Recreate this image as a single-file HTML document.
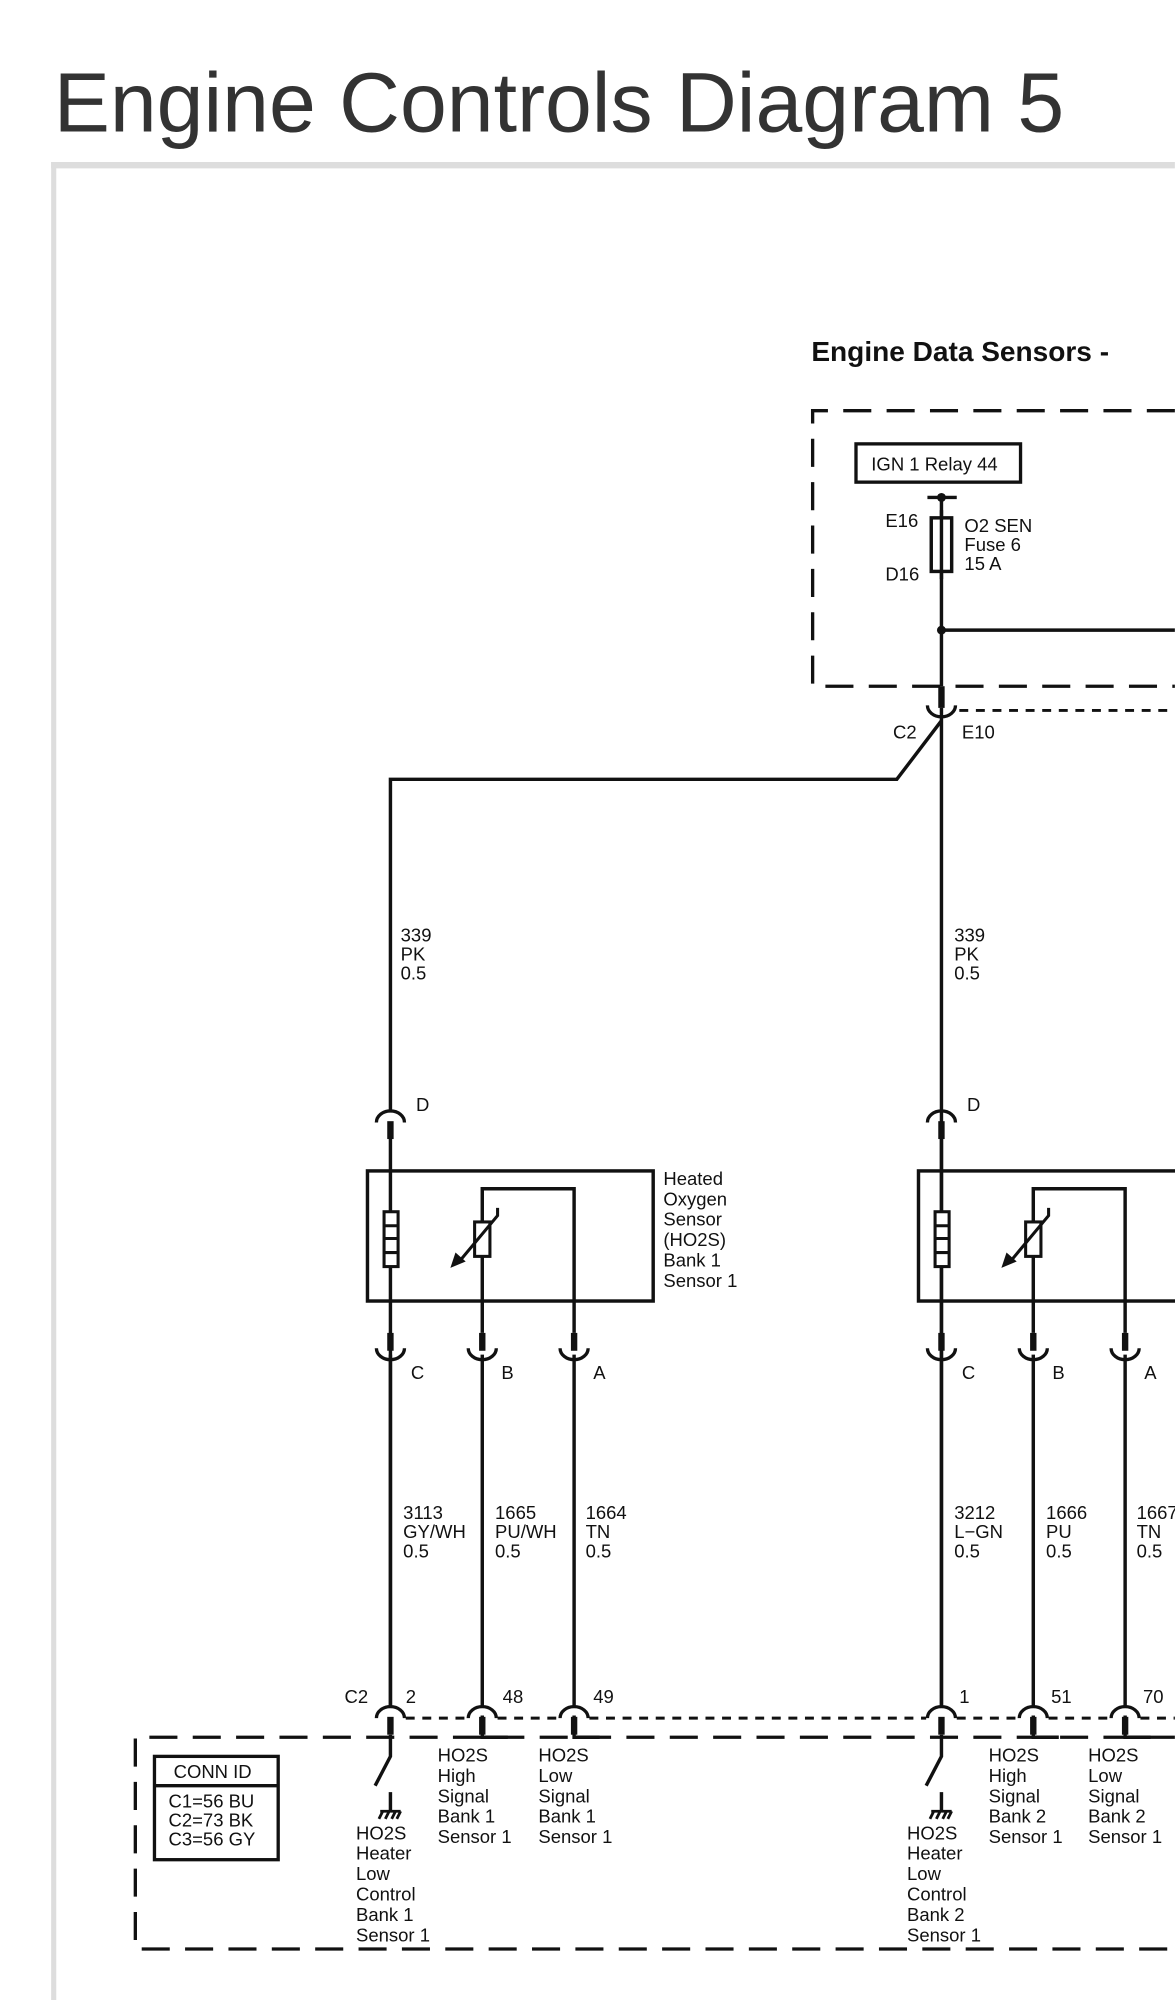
<!DOCTYPE html>
<html><head><meta charset="utf-8"><style>
html,body{margin:0;padding:0;background:#fff;}
svg{display:block;}
text{font-family:"Liberation Sans",Arial,sans-serif;fill:#111;}
.t{font-size:14.5px;}
</style></head><body>
<svg width="1175" height="2000" viewBox="0 0 921 1568" xmlns="http://www.w3.org/2000/svg">
<defs>
<g id="up"><path d="M-11,8 A11,9 0 0 1 11,8" fill="none" stroke="#111" stroke-width="2.6"/><rect x="-2.5" y="7" width="5" height="14" fill="#111"/></g>
<g id="dn"><rect x="-2.5" y="-14" width="5" height="14" fill="#111"/><path d="M-11,-2 A11,9 0 0 0 11,-2" fill="none" stroke="#111" stroke-width="2.6"/></g>
</defs>
<text x="42" y="103" style="font-size:66px;fill:#333">Engine Controls Diagram 5</text>
<rect x="40" y="127" width="881" height="5" fill="#ddd"/>
<rect x="40" y="127" width="4" height="1441" fill="#ddd"/>
<text x="636" y="283" style="font-size:22px;font-weight:bold">Engine Data Sensors  -</text>
<g fill="none" stroke="#111" stroke-width="2.6" stroke-dasharray="22,12">
<path d="M921,322 H637 V538 H921"/>
<path d="M921,1362 H106 V1528 H921"/>
</g>
<g fill="none" stroke="#111" stroke-width="2.3" stroke-dasharray="7,6">
<path d="M752,557 H921"/>
<path d="M318,1347 H366 M390,1347 H438 M462,1347 H726 M750,1347 H798 M822,1347 H870 M894,1347 H921"/>
</g>
<rect x="671" y="348" width="129" height="30" fill="none" stroke="#111" stroke-width="2.6"/>
<text x="683" y="369" class="t">IGN 1 Relay 44</text>
<g stroke="#111" stroke-width="2.7" fill="none">
<path d="M727,390 H750"/>
<path d="M738,390 V538"/>
<rect x="730" y="406" width="16" height="42" fill="#fff"/>
<path d="M738,400 V454"/>
<path d="M738,494 H921"/>
<path d="M738,555 V1338"/>
<path d="M738,565 L703,611 H306 V870"/>
<path d="M306,884 V1338"/>
<path d="M738,884 V1338"/>
<rect x="288" y="918" width="224" height="102"/>
<rect x="720" y="918" width="210" height="102"/>
<path d="M378,958 V932 H450 V1045"/><path d="M378,985 V1045"/>
<path d="M810,958 V932 H882 V1045"/><path d="M810,985 V1045"/>
<path d="M306,1360 V1377 L294,1400 M306,1405 V1420"/>
<path d="M738,1360 V1377 L726,1400 M738,1405 V1420"/>
<path d="M378,1345 V1362 H398 M450,1345 V1362 H470"/>
<path d="M810,1345 V1362 H830 M882,1345 V1362 H902"/>
</g>
<circle cx="738" cy="390" r="3.5" fill="#111"/>
<circle cx="738" cy="494" r="3.5" fill="#111"/>
<rect x="735.5" y="538" width="5" height="17" fill="#111"/>
<path d="M727,553 A11,9 0 0 0 749,553" fill="none" stroke="#111" stroke-width="2.6"/>
<text x="694" y="413" class="t">E16</text><text x="694" y="455" class="t">D16</text>
<text x="756" y="417" class="t">O2 SEN</text><text x="756" y="432" class="t">Fuse 6</text><text x="756" y="447" class="t">15 A</text>
<text x="700" y="579" class="t">C2</text><text x="754" y="579" class="t">E10</text>
<g class="t"><text x="314" y="738">339</text><text x="314" y="753">PK</text><text x="314" y="768">0.5</text>
<text x="748" y="738">339</text><text x="748" y="753">PK</text><text x="748" y="768">0.5</text></g>
<use href="#up" x="306" y="872"/><use href="#up" x="738" y="872"/>
<text x="326" y="871" class="t">D</text><text x="758" y="871" class="t">D</text>
<g stroke="#111" stroke-width="2.4" fill="#fff">
<rect x="301" y="950" width="11" height="43"/><path d="M301,961 H312 M301,971 H312 M301,982 H312"/>
<rect x="733" y="950" width="11" height="43"/><path d="M733,961 H744 M733,971 H744 M733,982 H744"/>
<rect x="372" y="958" width="12" height="27"/>
<rect x="804" y="958" width="12" height="27"/>
<path d="M390,947 V953 L360,989" fill="none"/>
<path d="M822,947 V953 L792,989" fill="none"/>
</g>
<path d="M353,994 L357,982 L365,989 Z" fill="#111"/>
<path d="M785,994 L789,982 L797,989 Z" fill="#111"/>
<g class="t"><text x="520" y="929">Heated</text><text x="520" y="945">Oxygen</text><text x="520" y="961">Sensor</text><text x="520" y="977">(HO2S)</text><text x="520" y="993">Bank 1</text><text x="520" y="1009">Sensor 1</text></g>
<use href="#dn" x="306" y="1059"/><use href="#dn" x="378" y="1059"/><use href="#dn" x="450" y="1059"/>
<use href="#dn" x="738" y="1059"/><use href="#dn" x="810" y="1059"/><use href="#dn" x="882" y="1059"/>
<g stroke="#111" stroke-width="2.7"><path d="M306,1062 V1338 M378,1062 V1338 M450,1062 V1338 M810,1062 V1338 M882,1062 V1338"/></g>
<g class="t">
<text x="322" y="1081">C</text><text x="393" y="1081">B</text><text x="465" y="1081">A</text>
<text x="754" y="1081">C</text><text x="825" y="1081">B</text><text x="897" y="1081">A</text>
<text x="316" y="1191">3113</text><text x="316" y="1206">GY/WH</text><text x="316" y="1221">0.5</text>
<text x="388" y="1191">1665</text><text x="388" y="1206">PU/WH</text><text x="388" y="1221">0.5</text>
<text x="459" y="1191">1664</text><text x="459" y="1206">TN</text><text x="459" y="1221">0.5</text>
<text x="748" y="1191">3212</text><text x="748" y="1206">L−GN</text><text x="748" y="1221">0.5</text>
<text x="820" y="1191">1666</text><text x="820" y="1206">PU</text><text x="820" y="1221">0.5</text>
<text x="891" y="1191">1667</text><text x="891" y="1206">TN</text><text x="891" y="1221">0.5</text>
<text x="270" y="1335">C2</text><text x="318" y="1335">2</text><text x="394" y="1335">48</text><text x="465" y="1335">49</text>
<text x="752" y="1335">1</text><text x="824" y="1335">51</text><text x="896" y="1335">70</text>
</g>
<use href="#up" x="306" y="1339"/><use href="#up" x="378" y="1339"/><use href="#up" x="450" y="1339"/>
<use href="#up" x="738" y="1339"/><use href="#up" x="810" y="1339"/><use href="#up" x="882" y="1339"/>
<g stroke="#111" stroke-width="2.2"><path d="M298,1420 H314 M300,1420 L297,1426 M305,1420 L302,1426 M310,1420 L307,1426 M314,1420 L311,1426"/>
<path d="M730,1420 H746 M732,1420 L729,1426 M737,1420 L734,1426 M742,1420 L739,1426 M746,1420 L743,1426"/></g>
<rect x="121" y="1377" width="97" height="81" fill="none" stroke="#111" stroke-width="2.6"/>
<path d="M121,1400 H218" stroke="#111" stroke-width="2.6"/>
<g class="t"><text x="136" y="1394">CONN ID</text><text x="132" y="1417">C1=56 BU</text><text x="132" y="1432">C2=73 BK</text><text x="132" y="1447">C3=56 GY</text>
<text x="279" y="1442">HO2S</text><text x="279" y="1458">Heater</text><text x="279" y="1474">Low</text><text x="279" y="1490">Control</text><text x="279" y="1506">Bank 1</text><text x="279" y="1522">Sensor 1</text>
<text x="343" y="1381">HO2S</text><text x="343" y="1397">High</text><text x="343" y="1413">Signal</text><text x="343" y="1429">Bank 1</text><text x="343" y="1445">Sensor 1</text>
<text x="422" y="1381">HO2S</text><text x="422" y="1397">Low</text><text x="422" y="1413">Signal</text><text x="422" y="1429">Bank 1</text><text x="422" y="1445">Sensor 1</text>
<text x="711" y="1442">HO2S</text><text x="711" y="1458">Heater</text><text x="711" y="1474">Low</text><text x="711" y="1490">Control</text><text x="711" y="1506">Bank 2</text><text x="711" y="1522">Sensor 1</text>
<text x="775" y="1381">HO2S</text><text x="775" y="1397">High</text><text x="775" y="1413">Signal</text><text x="775" y="1429">Bank 2</text><text x="775" y="1445">Sensor 1</text>
<text x="853" y="1381">HO2S</text><text x="853" y="1397">Low</text><text x="853" y="1413">Signal</text><text x="853" y="1429">Bank 2</text><text x="853" y="1445">Sensor 1</text>
</g>
</svg>
</body></html>
